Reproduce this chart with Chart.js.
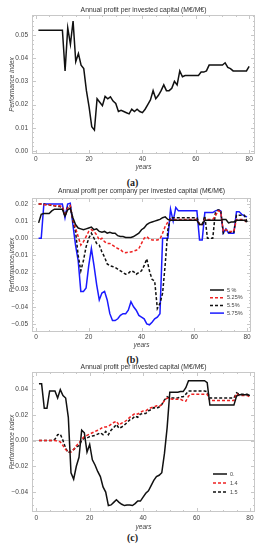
<!DOCTYPE html>
<html lang="en">
<head>
  <meta charset="UTF-8">
  <title>Annual profit per invested capital</title>
  <script src="https://cdn.jsdelivr.net/npm/chart.js@4.4.1/dist/chart.umd.min.js"></script>
  <style>
    body { margin: 0; background: #fff; font-family: 'Liberation Sans', Arial, sans-serif; }
    .panel { position: absolute; left: 0; width: 265px; }
    .cap { position: absolute; left: 0; width: 265px; text-align: center; font-family: 'Liberation Serif', serif; font-weight: bold; font-size: 10px; color: #222; line-height: 10px; }
  </style>
</head>
<body>
  <div class="panel" style="top:0;height:176px"><canvas id="chartA"></canvas></div>
  <div class="cap" style="top:178px">(a)</div>
  <div class="panel" style="top:185px;height:165px"><canvas id="chartB"></canvas></div>
  <div class="cap" style="top:355px">(b)</div>
  <div class="panel" style="top:362px;height:169px"><canvas id="chartC"></canvas></div>
  <div class="cap" style="top:533px">(c)</div>

  <script>
    // years 1..80
    const years = [];
    for (let i = 1; i <= 80; i++) years.push(i);

    const xTicks = [0, 20, 40, 60, 80];
    const yTicksA = [0, 0.01, 0.02, 0.03, 0.04, 0.05];
    const yTicksB = [-0.05, -0.04, -0.03, -0.02, -0.01, 0, 0.01, 0.02];
    const yTicksC = [-0.04, -0.02, 0, 0.02, 0.04];

    // (a)
    const profitA = [
      0.052, 0.052, 0.052, 0.052, 0.052, 0.052, 0.052, 0.052, 0.052, 0.052,
      0.0345, 0.053, 0.046, 0.056, 0.0385, 0.042, 0.037, 0.0355, 0.026, 0.019,
      0.0105, 0.009, 0.0225, 0.021, 0.0195, 0.0235, 0.0225, 0.0233, 0.0215, 0.0205,
      0.017, 0.0175, 0.017, 0.0165, 0.016, 0.018, 0.017, 0.018, 0.017, 0.0165,
      0.018, 0.020, 0.022, 0.026, 0.0225, 0.024, 0.026, 0.0285, 0.026, 0.026,
      0.027, 0.030, 0.0285, 0.0345, 0.032, 0.0325, 0.0325, 0.0325, 0.0325, 0.0325,
      0.0325, 0.034, 0.034, 0.0345, 0.037, 0.037, 0.037, 0.037, 0.037, 0.037,
      0.038, 0.036, 0.0355, 0.0345, 0.0345, 0.0345, 0.0345, 0.0345, 0.0345, 0.0365
    ];

    // (b)
    const labelsB = ['5 %', '5.25%', '5.5%', '5.75%'];
    const rate500 = [
      0.009, 0.014, 0.0145, 0.0145, 0.0145, 0.016, 0.017, 0.017, 0.017, 0.017,
      0.013, 0.0165, 0.0175, 0.012, 0.008, 0.006, 0.0055, 0.005, 0.0055, 0.006,
      0.0065, 0.005, 0.0055, 0.004, 0.0035, 0.004, 0.003, 0.0035, 0.003, 0.003,
      0.0015, 0.001, 0.001, 0.0005, 0.0005, 0.0005, 0.001, 0.002, 0.003, 0.005,
      0.006, 0.008, 0.009, 0.0095, 0.010, 0.0105, 0.011, 0.012, 0.0125, 0.011,
      0.0105, 0.0105, 0.0105, 0.0105, 0.0105, 0.0105, 0.0105, 0.0105, 0.0105, 0.0105,
      0.0105, 0.008, 0.008, 0.0105, 0.0105, 0.0105, 0.0105, 0.0105, 0.0105, 0.0105,
      0.011, 0.011, 0.009, 0.0095, 0.0095, 0.0105, 0.0105, 0.0105, 0.0105, 0.0095
    ];
    const rate525 = [
      0.020, 0.020, 0.0195, 0.0195, 0.0195, 0.0195, 0.019, 0.019, 0.019, 0.0185,
      0.013, 0.0175, 0.019, 0.011, 0.006, 0.001, -0.004, -0.002, 0.001, 0.004,
      0.005, 0.004, 0.002, -0.001, 0.000, -0.002, -0.003, -0.003, -0.004, -0.005,
      -0.006, -0.0065, -0.008, -0.0085, -0.008, -0.008, -0.0075, -0.007, -0.006, -0.003,
      0.000, 0.001, -0.0005, -0.001, -0.001, -0.001, -0.0005, 0.003, 0.007, 0.0095,
      0.011, 0.011, 0.011, 0.011, 0.011, 0.011, 0.011, 0.011, 0.011, 0.011,
      0.011, 0.008, 0.008, 0.011, 0.011, 0.011, 0.011, 0.013, 0.016, 0.0155,
      0.004, 0.005, 0.004, 0.004, 0.004, 0.011, 0.011, 0.011, 0.011, 0.0085
    ];
    const rate550 = [
      0.020, 0.020, 0.020, 0.0195, 0.0195, 0.019, 0.019, 0.0185, 0.0185, 0.018,
      0.013, 0.018, 0.019, 0.010, 0.004, -0.010, -0.019, -0.013, -0.005, 0.000,
      0.003, 0.000, -0.003, -0.004, -0.008, -0.011, -0.015, -0.016, -0.0165, -0.017,
      -0.018, -0.019, -0.020, -0.021, -0.0205, -0.019, -0.0195, -0.021, -0.020, -0.019,
      -0.016, -0.012, -0.019, -0.024, -0.025, -0.041, -0.038, -0.032, -0.015, 0.005,
      0.012, 0.012, 0.012, 0.012, 0.012, 0.012, 0.012, 0.012, 0.012, 0.012,
      0.012, 0.008, 0.008, 0.013, 0.000, 0.000, 0.000, 0.015, 0.0165, 0.0165,
      0.003, 0.005, 0.0035, 0.0035, 0.0035, 0.0135, 0.0135, 0.0135, 0.0135, 0.0095
    ];
    const rate575 = [
      0, 0, 0.020, 0.020, 0.020, 0.020, 0.020, 0.020, 0.020, 0.020,
      0.012, 0.020, 0.0205, 0.008, -0.004, -0.013, -0.031, -0.031, -0.029, -0.016,
      -0.006, -0.016, -0.027, -0.036, -0.032, -0.031, -0.036, -0.044, -0.048, -0.048,
      -0.047, -0.045, -0.044, -0.044, -0.042, -0.037, -0.040, -0.042, -0.045, -0.046,
      -0.047, -0.050, -0.0505, -0.049, -0.047, -0.046, -0.044, 0.000, 0.000, 0.000,
      0.017, 0.010, 0.018, 0.016, 0.016, 0.016, 0.016, 0.016, 0.016, 0.016,
      0.016, -0.001, -0.001, 0.015, 0.015, 0.015, 0.015, 0.016, 0.0165, 0.016,
      0.003, 0.0055, 0.003, 0.003, 0.003, 0.0155, 0.0155, 0.014, 0.013, 0.0125
    ];

    // (c)
    const labelsC = ['0.', '1.4', '1.5'];
    const param00 = [
      0.044, 0.044, 0.025, 0.025, 0.0385, 0.0385, 0.0385, 0.033, 0.0395, 0.035,
      0.033, 0.018, -0.025, -0.030, -0.020, -0.013, 0.008, 0.006, -0.009, -0.003,
      -0.015, -0.019, -0.024, -0.028, -0.036, -0.040, -0.0505, -0.050, -0.048, -0.046,
      -0.048, -0.0495, -0.0505, -0.050, -0.050, -0.0505, -0.049, -0.047, -0.047, -0.044,
      -0.041, -0.039, -0.035, -0.031, -0.028, -0.027, -0.025, -0.010, 0.010, 0.0375,
      0.0375, 0.0375, 0.0375, 0.038, 0.038, 0.041, 0.0465, 0.0465, 0.0465, 0.0465,
      0.0465, 0.0465, 0.0465, 0.045, 0.0275, 0.0275, 0.0275, 0.0275, 0.0275, 0.0275,
      0.0275, 0.0275, 0.0275, 0.0275, 0.0345, 0.0355, 0.0355, 0.0355, 0.0355, 0.035
    ];
    const param14 = [
      0, 0, 0, 0, 0, 0, 0, -0.0005, -0.001, -0.004,
      -0.007, -0.009, -0.009, -0.007, -0.004, -0.002, 0.001, 0.003, 0.004, 0.005,
      0.006, 0.007, 0.008, 0.009, 0.0105, 0.0105, 0.011, 0.0125, 0.014, 0.015,
      0.012, 0.0135, 0.0145, 0.016, 0.018, 0.0195, 0.021, 0.0205, 0.022, 0.023,
      0.023, 0.0245, 0.0255, 0.026, 0.027, 0.0265, 0.028, 0.031, 0.033, 0.0325,
      0.032, 0.032, 0.032, 0.032, 0.031, 0.0305, 0.0345, 0.036, 0.036, 0.036,
      0.036, 0.036, 0.036, 0.036, 0.031, 0.031, 0.031, 0.031, 0.031, 0.031,
      0.031, 0.031, 0.031, 0.031, 0.0365, 0.035, 0.035, 0.035, 0.035, 0.0335
    ];
    const param15 = [
      0, 0, 0, 0, 0, 0, 0.001, 0.0045, 0.005, 0.000,
      -0.006, -0.0095, -0.008, -0.007, -0.005, -0.004, 0.000, 0.002, 0.002, 0.003,
      0.0035, 0.004, 0.005, 0.006, 0.0045, 0.007, 0.0045, 0.008, 0.010, 0.0125,
      0.0095, 0.0105, 0.012, 0.014, 0.016, 0.017, 0.019, 0.018, 0.0205, 0.021,
      0.021, 0.023, 0.024, 0.0255, 0.025, 0.026, 0.028, 0.0315, 0.034, 0.033,
      0.033, 0.033, 0.033, 0.034, 0.034, 0.036, 0.0385, 0.0385, 0.0385, 0.0385,
      0.0385, 0.0385, 0.0385, 0.038, 0.033, 0.033, 0.033, 0.033, 0.033, 0.033,
      0.033, 0.033, 0.033, 0.033, 0.037, 0.036, 0.036, 0.036, 0.036, 0.035
    ];

    const FRAME = '#c8c8c8';
    const TXT = '#444';
    const FAMILY = "'Liberation Sans', Arial, sans-serif";
    Chart.defaults.font.family = FAMILY;

    const pts = vals => years.map((yr, i) => ({ x: yr, y: vals[i] }));
    const line = (label, vals, color, dash) => ({
      label, data: pts(vals), borderColor: color, borderWidth: 1.5,
      borderDash: dash || [], pointRadius: 0, fill: false, tension: 0
    });
    const fmt = d => v => (v < 0 ? '\u2212' : '') + Math.abs(v).toFixed(d);

    // frame with inward ticks on all four sides (Mathematica style), title over plot, inset legend
    const framePlugin = {
      id: 'frame',
      beforeDatasetsDraw(chart, args, o) {
        const { ctx, chartArea: a, scales: { x, y } } = chart;
        ctx.save();
        ctx.strokeStyle = FRAME;
        ctx.lineWidth = 1;
        ctx.strokeRect(Math.round(a.left) + 0.5, Math.round(a.top) + 0.5,
          Math.round(a.width) - 1, Math.round(a.height) - 1);
        ctx.beginPath();
        const xs = o.xMinor;
        for (let v = Math.ceil(x.min / xs) * xs; v <= x.max; v += xs) {
          const px = Math.round(x.getPixelForValue(v)) + 0.5;
          const len = xTicks.includes(Math.round(v)) ? 4 : 2;
          ctx.moveTo(px, a.bottom); ctx.lineTo(px, a.bottom - len);
          ctx.moveTo(px, a.top); ctx.lineTo(px, a.top + len);
        }
        const ys = o.yMinor;
        const n0 = Math.ceil(y.min / ys - 1e-6), n1 = Math.floor(y.max / ys + 1e-6);
        for (let k = n0; k <= n1; k++) {
          const v = k * ys;
          const py = Math.round(y.getPixelForValue(v)) + 0.5;
          const major = o.yMajor.some(t => Math.abs(t - v) < 1e-9);
          const len = major ? 4 : 2;
          ctx.moveTo(a.left, py); ctx.lineTo(a.left + len, py);
          ctx.moveTo(a.right, py); ctx.lineTo(a.right - len, py);
        }
        ctx.stroke();
        ctx.restore();
      },
      afterDatasetsDraw(chart, args, o) {
        const { ctx, chartArea: a } = chart;
        ctx.save();
        // title, centred over the plot frame
        ctx.font = '6.8px ' + FAMILY;
        ctx.fillStyle = '#333';
        ctx.textAlign = 'center';
        ctx.textBaseline = 'middle';
        ctx.fillText(o.title, (a.left + a.right) / 2, o.titleY);
        if (o.legend) {
          const L = o.legend;
          ctx.font = '5.5px ' + FAMILY;
          ctx.textAlign = 'left';
          ctx.fillStyle = TXT;
          chart.data.datasets.forEach((ds, i) => {
            const yy = a.bottom - L.dy + i * L.gap;
            const x0 = a.right - L.dx;
            ctx.strokeStyle = ds.borderColor;
            ctx.lineWidth = 1.5;
            ctx.setLineDash(ds.borderDash || []);
            ctx.beginPath();
            ctx.moveTo(x0, yy); ctx.lineTo(x0 + 14, yy);
            ctx.stroke();
            ctx.setLineDash([]);
            ctx.fillText(ds.label, x0 + 17, yy);
          });
        }
        ctx.restore();
      }
    };

    function makeChart(id, p) {
      new Chart(document.getElementById(id), {
        type: 'line',
        data: { datasets: p.datasets },
        options: {
          responsive: true,
          maintainAspectRatio: false,
          animation: false,
          layout: { padding: { left: 0, right: p.padRight, top: p.padTop, bottom: 0 } },
          plugins: {
            legend: { display: false },
            tooltip: { enabled: false },
            title: { display: false },
            frame: { xMinor: 5, yMinor: p.yMinor, yMajor: p.yTicks, legend: p.legend, title: p.title, titleY: p.titleY }
          },
          scales: {
            x: {
              type: 'linear', min: p.xMin, max: p.xMax,
              afterBuildTicks: s => { s.ticks = xTicks.map(v => ({ value: v })); },
              afterFit: s => { s.height = p.xAxisH; },
              grid: { display: false, drawTicks: false },
              border: { display: false },
              ticks: { color: TXT, font: { size: 6.5 }, padding: p.xTickPad, maxRotation: 0, callback: v => String(v) },
              title: { display: true, text: 'years', color: TXT, font: { size: 6.5, style: 'italic' }, padding: p.xTitlePad }
            },
            y: {
              min: p.yMin, max: p.yMax,
              afterBuildTicks: s => { s.ticks = p.yTicks.map(v => ({ value: v })); },
              afterFit: s => { s.width = 32; },
              grid: {
                display: true, drawTicks: false, lineWidth: 1,
                color: c => (p.zeroLine && c.tick && c.tick.value === 0) ? FRAME : 'rgba(0,0,0,0)'
              },
              border: { display: false },
              ticks: { color: TXT, font: { size: 6.5 }, padding: 4, callback: fmt(2) },
              title: { display: true, text: 'Performance index', color: TXT, font: { size: 6.5, style: 'italic' }, padding: { top: 8, bottom: 0 } }
            }
          }
        },
        plugins: [framePlugin]
      });
    }

    makeChart('chartA', {
      title: 'Annual profit per invested capital (M\u20ac/M\u20ac)', titleY: 10,
      datasets: [line('profit', profitA, '#111')],
      xMin: -1.4, xMax: 82.2, yMin: -0.0013, yMax: 0.0586,
      yTicks: yTicksA, yMinor: 0.002, zeroLine: false,
      padRight: 10, padTop: 15, xAxisH: 22, xTickPad: 1, xTitlePad: { top: 0, bottom: 5 }
    });

    makeChart('chartB', {
      title: 'Annual profit per company per invested capital (M\u20ac/M\u20ac)', titleY: 6,
      datasets: [
        line(labelsB[0], rate500, '#111'),
        line(labelsB[1], rate525, '#ee2222', [3, 2]),
        line(labelsB[2], rate550, '#111', [3, 2]),
        line(labelsB[3], rate575, '#1a1aff')
      ],
      xMin: -1.5, xMax: 81.5, yMin: -0.0547, yMax: 0.0235,
      yTicks: yTicksB, yMinor: 0.002, zeroLine: true,
      padRight: 14, padTop: 13, xAxisH: 18, xTickPad: 1, xTitlePad: { top: 0, bottom: 1 },
      legend: { dx: 41, dy: 42, gap: 7.7 }
    });

    makeChart('chartC', {
      title: 'Annual profit per invested capital (M\u20ac/M\u20ac)', titleY: 5,
      datasets: [
        line(labelsC[0], param00, '#111'),
        line(labelsC[1], param14, '#ee2222', [3, 2]),
        line(labelsC[2], param15, '#111', [3, 2])
      ],
      xMin: -1.6, xMax: 81.9, yMin: -0.0555, yMax: 0.0532,
      yTicks: yTicksC, yMinor: 0.005, zeroLine: true,
      padRight: 10, padTop: 10, xAxisH: 19, xTickPad: 2, xTitlePad: { top: 0, bottom: 0 },
      legend: { dx: 42, dy: 38, gap: 9 }
    });
  </script>
</body>
</html>
